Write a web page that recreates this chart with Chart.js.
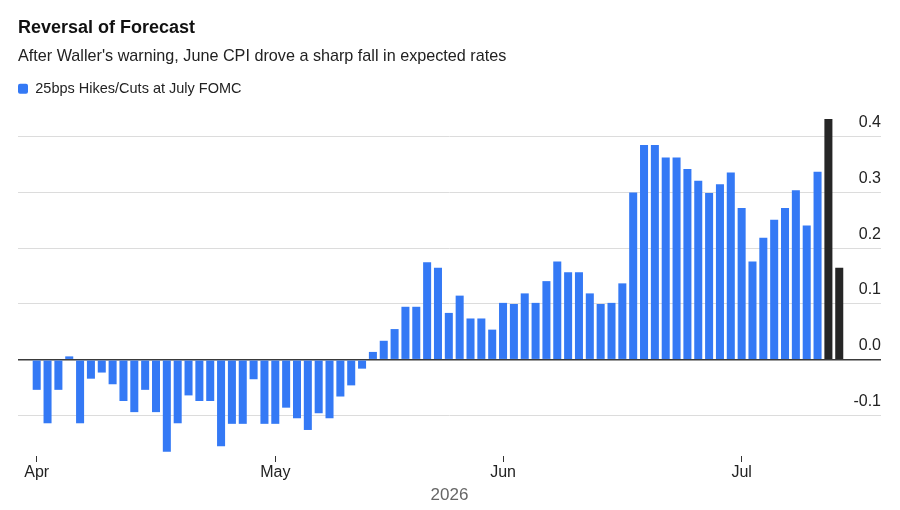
<!DOCTYPE html>
<html>
<head>
<meta charset="utf-8">
<title>Reversal of Forecast</title>
<script src="https://cdn.jsdelivr.net/npm/chart.js@4.4.1/dist/chart.umd.min.js"></script>
<style>
  html, body { margin: 0; padding: 0; background: #fff; }
</style>
</head>
<body>
<canvas id="chart" width="900" height="510"></canvas>
<script>
// trading sessions shown, first to last
const startDate = '2026-04-01';
const endDate = '2026-07-14';
const monthNames = ['Apr', 'May', 'Jun', 'Jul'];

// priced 25bp moves for the July FOMC, one value per session
const hikesCuts = [
  -0.054, -0.114, -0.054, 0.006, -0.114, -0.034, -0.023, -0.044, -0.074, -0.094,
  -0.054, -0.094, -0.165, -0.114, -0.064, -0.074, -0.074, -0.155, -0.115, -0.115,
  -0.035, -0.115, -0.115, -0.086, -0.105, -0.126, -0.096, -0.105, -0.066, -0.046,
  -0.016, 0.014, 0.034, 0.055, 0.095, 0.095, 0.175, 0.165, 0.084, 0.115,
  0.074, 0.074, 0.054, 0.102, 0.100, 0.119, 0.102, 0.141, 0.176, 0.157,
  0.157, 0.119, 0.100, 0.102, 0.137, 0.300, 0.385, 0.385, 0.363, 0.363,
  0.342, 0.321, 0.299, 0.315, 0.336, 0.272, 0.176, 0.219, 0.251, 0.272,
  0.304, 0.241, 0.337, 0.432, 0.165
];
const highlightCount = 2; // last sessions drawn in black

const yTicks = [-0.1, 0.0, 0.1, 0.2, 0.3, 0.4];

// weekday sessions between the two dates
const sessions = [];
for (let d = new Date(startDate + 'T12:00:00Z'); d <= new Date(endDate + 'T12:00:00Z'); d.setUTCDate(d.getUTCDate() + 1)) {
  const wd = d.getUTCDay();
  if (wd !== 0 && wd !== 6) sessions.push(d.toISOString().slice(0, 10));
}

// index of the first session of each month -> x tick
const monthStarts = [];
sessions.forEach((s, i) => {
  if (i === 0 || s.slice(5, 7) !== sessions[i - 1].slice(5, 7)) monthStarts.push(i);
});

const BLUE = '#3479f5';
const DARK = '#262626';

Chart.defaults.font.family = "'Liberation Sans', Arial, sans-serif";
Chart.defaults.color = '#222';

const ctx = document.getElementById('chart').getContext('2d');
new Chart(ctx, {
  type: 'bar',
  data: {
    datasets: [{
      label: '25bps Hikes/Cuts at July FOMC',
      data: hikesCuts.map((v, i) => ({ x: i, y: v })),
      backgroundColor: c => (c.dataIndex >= hikesCuts.length - highlightCount ? DARK : BLUE),
      borderWidth: 0,
      barPercentage: 0.74,
      categoryPercentage: 1,
    }]
  },
  options: {
    responsive: false,
    animation: false,
    events: [],
    layout: { padding: { left: 18, right: 19, top: 0, bottom: 4.4 } },
    plugins: {
      title: {
        display: true,
        text: 'Reversal of Forecast',
        align: 'start',
        color: '#111',
        font: { size: 18, weight: 'bold' },
        padding: { top: 17, bottom: 0 },
      },
      subtitle: {
        display: true,
        text: "After Waller's warning, June CPI drove a sharp fall in expected rates",
        align: 'start',
        color: '#222',
        font: { size: 16.2 },
        padding: { top: 8.5, bottom: 15 },
      },
      legend: {
        align: 'start',
        labels: {
          boxWidth: 10,
          boxHeight: 10,
          useBorderRadius: true,
          borderRadius: 2,
          padding: 0,
          color: '#222',
          font: { size: 14.5 },
        },
      },
      tooltip: { enabled: false },
    },
    scales: {
      x: {
        type: 'linear',
        offset: false,
        min: -1.724,
        max: 77.85,
        bounds: 'data',
        afterBuildTicks: axis => {
          axis.ticks = monthStarts.map(i => ({ value: i }));
        },
        ticks: {
          autoSkip: false,
          maxRotation: 0,
          padding: 1,
          color: '#222',
          font: { size: 16 },
          callback: v => monthNames[monthStarts.indexOf(v)],
        },
        grid: { offset: false, drawOnChartArea: false, tickLength: 6, color: '#333' },
        border: { display: false },
        title: {
          display: true,
          text: '2026',
          color: '#666',
          font: { size: 17 },
          padding: { top: 2, bottom: 0 },
        },
      },
      y: {
        position: 'right',
        min: -0.1727,
        max: 0.4551,
        bounds: 'data',
        afterBuildTicks: axis => {
          axis.ticks = yTicks.map(v => ({ value: v }));
        },
        ticks: {
          mirror: true,
          crossAlign: 'near',
          padding: 0,
          labelOffset: -14,
          color: '#222',
          font: { size: 16 },
          callback: v => v.toFixed(1),
        },
        grid: {
          drawTicks: false,
          color: c => (c.tick && c.tick.value === 0 ? '#3a3a3a' : '#dcdcdc'),
          lineWidth: c => (c.tick && c.tick.value === 0 ? 1.6 : 1),
        },
        border: { display: false },
      },
    },
  },
});
</script>
</body>
</html>
